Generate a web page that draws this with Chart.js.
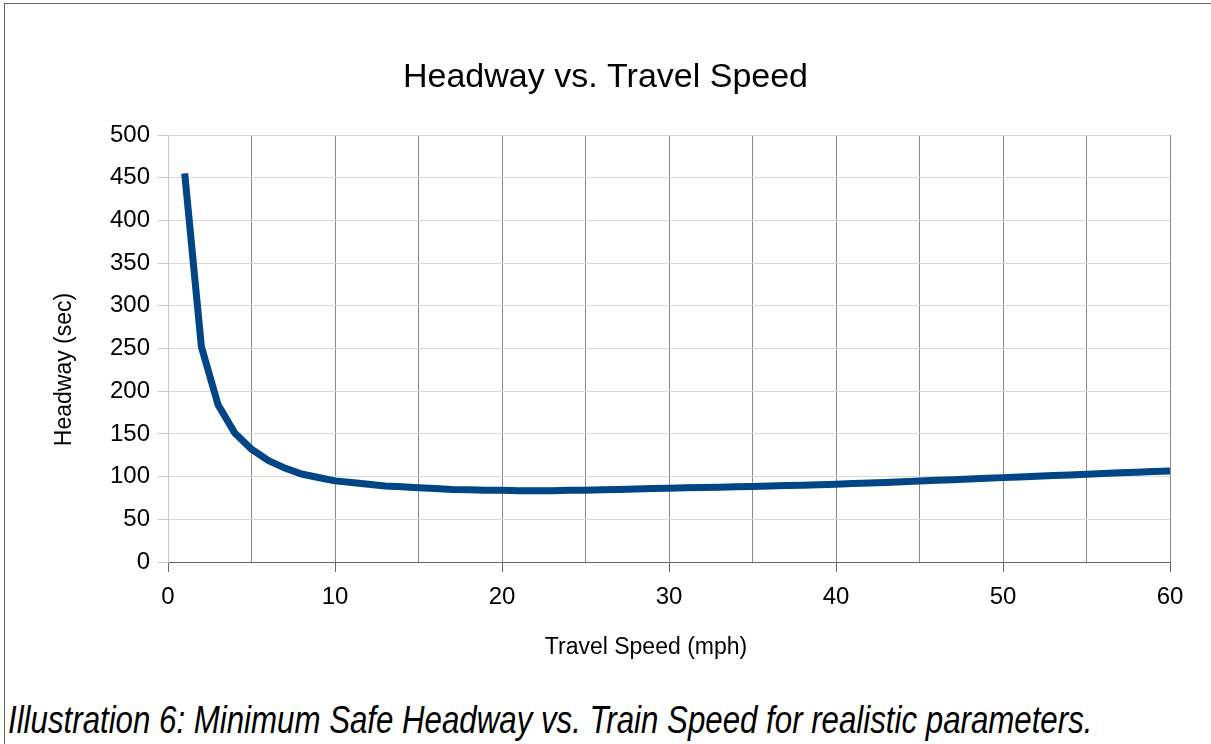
<!DOCTYPE html>
<html>
<head>
<meta charset="utf-8">
<script src="https://cdn.jsdelivr.net/npm/chart.js@4.4.1/dist/chart.umd.min.js"></script>
<style>
  html, body { margin: 0; padding: 0; background: #fff; }
  #page { position: relative; width: 1211px; height: 744px; overflow: hidden; }
  #frame { position: absolute; left: 4px; top: 3px; width: 1220px; height: 760px;
           border-left: 1px solid #666; border-top: 1px solid #666; }
  #chart { position: absolute; left: 0; top: 0; }
  #caption { position: absolute; left: 8px; top: 701px; white-space: nowrap;
             font: italic 38px "Liberation Sans", Arial, sans-serif; line-height: 38px;
             color: #000; transform: scaleX(0.822); transform-origin: left top; }
</style>
</head>
<body>
<div id="page">
  <div id="frame"></div>
  <canvas id="chart" width="1211" height="680"></canvas>
  <div id="caption">Illustration 6: Minimum Safe Headway vs. Train Speed for realistic parameters.</div>
</div>
<script>
const chartTitle = 'Headway vs. Travel Speed';
const xTitle = 'Travel Speed (mph)';
const yTitle = 'Headway (sec)';

// speed in mph, headway in seconds
const speed = [1, 2, 3, 4, 5, 6, 7, 8, 9, 10,
  11, 12, 13, 14, 15, 16, 17, 18, 19, 20,
  21, 22, 23, 24, 25, 26, 27, 28, 29, 30,
  31, 32, 33, 34, 35, 36, 37, 38, 39, 40,
  41, 42, 43, 44, 45, 46, 47, 48, 49, 50,
  51, 52, 53, 54, 55, 56, 57, 58, 59, 60];
const headway = [455, 252, 184, 151, 132, 119, 110, 103, 99, 95,
  93, 91, 89, 88, 87, 86, 85, 84.5, 84, 84,
  83.5, 83.5, 83.5, 84, 84, 84.5, 85, 85.5, 86, 86.5,
  87, 87.3, 87.6, 88, 88.5, 89, 89.5, 90, 90.5, 91,
  91.8, 92.5, 93.2, 94, 94.8, 95.6, 96.4, 97.2, 98, 98.8,
  99.6, 100.4, 101.2, 102, 102.8, 103.6, 104.4, 105.2, 106, 106.5];

const xMin = 0, xMax = 60, xStep = 5, xLabelStep = 10;
const yMin = 0, yMax = 500, yStep = 50;

const font = '"Liberation Sans", Arial, sans-serif';

// axis titles placed like the office chart (centred on the diagram, not the plot)
const axisTitles = {
  id: 'axisTitles',
  afterDraw(chart) {
    const { ctx, chartArea } = chart;
    ctx.save();
    ctx.fillStyle = '#000';
    ctx.font = '23px ' + font;
    ctx.textAlign = 'center';
    ctx.textBaseline = 'middle';
    ctx.fillText(xTitle, (chartArea.left + chartArea.right) / 2 - 23, chartArea.bottom + 86);
    ctx.translate(65, (chartArea.top + chartArea.bottom) / 2 + 21);
    ctx.rotate(-Math.PI / 2);
    ctx.fillText(yTitle, 0, 0);
    ctx.restore();
  }
};

const ctx = document.getElementById('chart').getContext('2d');
const chart = new Chart(ctx, {
  type: 'line',
  data: {
    datasets: [{
      data: speed.map((s, i) => ({ x: s, y: headway[i] })),
      borderColor: '#004586',
      borderWidth: 7,
      borderCapStyle: 'butt',
      pointRadius: 0,
      tension: 0,
      fill: false
    }]
  },
  options: {
    responsive: false,
    animation: false,
    devicePixelRatio: 1,
    layout: { padding: { left: 41, right: 41, top: 0, bottom: 0 } },
    plugins: {
      legend: { display: false },
      tooltip: { enabled: false },
      title: {
        display: true,
        text: chartTitle,
        color: '#000',
        font: { family: font, size: 34, weight: 'normal' },
        padding: { top: 57, bottom: 37.2 }
      }
    },
    scales: {
      x: {
        type: 'linear',
        min: xMin,
        max: xMax,
        afterFit: s => { s.height = 118; },
        ticks: {
          stepSize: xStep,
          autoSkip: false,
          maxRotation: 0,
          padding: 11,
          color: '#000',
          font: { family: font, size: 24 },
          callback: v => (v % xLabelStep === 0 ? v : '')
        },
        grid: {
          color: c => (c.tick && c.tick.value === 0 ? '#c8c8c8' : '#8a8a8a'),
          tickColor: c => (c.tick && c.tick.value % xLabelStep === 0 ? '#666' : 'rgba(0,0,0,0)'),
          tickLength: 10
        },
        border: { color: '#666' }
      },
      y: {
        min: yMin,
        max: yMax,
        afterFit: s => { s.width = 127; },
        ticks: {
          stepSize: yStep,
          padding: 8,
          color: '#000',
          font: { family: font, size: 24 }
        },
        grid: { color: '#d9d9d9', tickColor: '#c8c8c8', tickLength: 10 },
        border: { color: '#c8c8c8' }
      }
    }
  },
  plugins: [axisTitles]
});
</script>
</body>
</html>
